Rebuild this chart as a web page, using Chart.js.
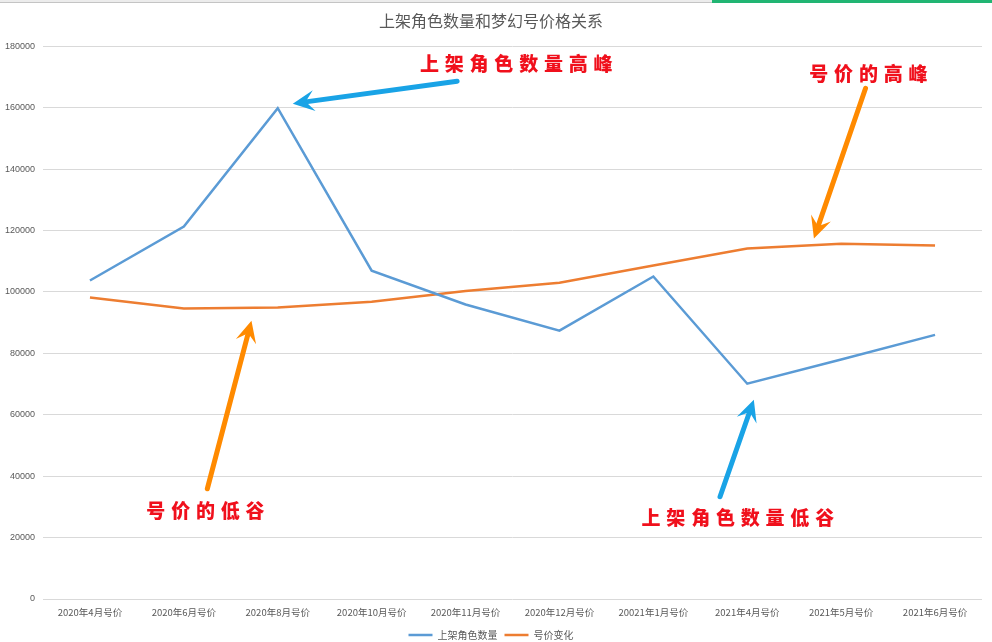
<!DOCTYPE html>
<html><head><meta charset="utf-8">
<script src="https://cdn.jsdelivr.net/npm/chart.js@4.4.1/dist/chart.umd.min.js"></script>
<style>
html,body{margin:0;padding:0;background:#fff;}
#wrap{position:relative;width:992px;height:642px;overflow:hidden;}
#c{position:absolute;left:0;top:0;}
#topbar{position:absolute;left:0;top:0;width:992px;height:2px;background:#ececec;border-bottom:1px solid #c4c4c4;}
#green{position:absolute;left:712px;top:0;width:280px;height:3px;background:#21b573;}
</style></head><body>
<div id="wrap"><canvas id="c" width="992" height="642" style="width:992px;height:642px"></canvas><div id="topbar"></div><div id="green"></div></div>
<script>
const categories = ['2020年4月号价','2020年6月号价','2020年8月号价','2020年10月号价','2020年11月号价','2020年12月号价','20021年1月号价','2021年4月号价','2021年5月号价','2021年6月号价'];
const listedCount = [103700,121300,159800,106900,95900,87400,105000,70100,78000,86000];
const priceChange = [98200,94600,94900,96800,100300,103000,108600,114100,115700,115100];
const yTicks = [0,20000,40000,60000,80000,100000,120000,140000,160000,180000];

// call-out notes placed in data space (category index, value)
const notes = [
  {text:'上架角色数量高峰', at:[4.54,174300], from:[3.91,168600], to:[2.16,161300], color:'#19a3e6'},
  {text:'号价的高峰', at:[8.29,171000], from:[8.26,166300], to:[7.71,117400], color:'#ff8a00'},
  {text:'号价的低谷', at:[1.23,28700], from:[1.25,35900], to:[1.72,90600], color:'#ff8a00'},
  {text:'上架角色数量低谷', at:[6.90,26400], from:[6.71,33300], to:[7.07,64900], color:'#19a3e6'}
];

function drawArrow(ctx,x1,y1,x2,y2,color){
  const a=Math.atan2(y2-y1,x2-x1), head=24, spread=0.45, notch=13;
  const nx=x2-notch*Math.cos(a), ny=y2-notch*Math.sin(a);
  ctx.save();
  ctx.strokeStyle=color; ctx.fillStyle=color; ctx.lineWidth=5; ctx.lineCap='round';
  ctx.beginPath(); ctx.moveTo(x1,y1); ctx.lineTo(nx,ny); ctx.stroke();
  ctx.beginPath();
  ctx.moveTo(x2,y2);
  ctx.lineTo(x2-head*Math.cos(a-spread), y2-head*Math.sin(a-spread));
  ctx.lineTo(nx,ny);
  ctx.lineTo(x2-head*Math.cos(a+spread), y2-head*Math.sin(a+spread));
  ctx.closePath(); ctx.fill();
  ctx.restore();
}

const notesPlugin = {
  id:'notes',
  afterDatasetsDraw(chart){
    const ctx=chart.ctx, xs=chart.scales.x, ys=chart.scales.y;
    const px=i=>xs.getPixelForValue(0)+i*(xs.getPixelForValue(1)-xs.getPixelForValue(0));
    notes.forEach(n=>{
      drawArrow(ctx, px(n.from[0]), ys.getPixelForValue(n.from[1]), px(n.to[0]), ys.getPixelForValue(n.to[1]), n.color);
      ctx.save();
      ctx.font='900 19px "Noto Sans CJK SC"';
      ctx.fillStyle='#f0101c';
      ctx.textBaseline='middle'; ctx.textAlign='center';
      const step=24.8, chars=[...n.text];
      const cx=px(n.at[0]), cy=ys.getPixelForValue(n.at[1]);
      const start=cx-step*(chars.length-1)/2;
      chars.forEach((ch,k)=>ctx.fillText(ch,start+k*step,cy));
      ctx.restore();
    });
  }
};

new Chart(document.getElementById('c'),{
  type:'line',
  data:{
    labels:categories,
    datasets:[
      {label:'上架角色数量', data:listedCount, borderColor:'#5b9bd5', backgroundColor:'#5b9bd5', borderWidth:2.5, pointRadius:0, tension:0, fill:false},
      {label:'号价变化', data:priceChange, borderColor:'#ed7d31', backgroundColor:'#ed7d31', borderWidth:2.5, pointRadius:0, tension:0, fill:false}
    ]
  },
  options:{
    responsive:false, animation:false, devicePixelRatio:1,
    layout:{padding:{left:0,right:10,top:0,bottom:-8}},
    plugins:{
      title:{display:true, text:'上架角色数量和梦幻号价格关系', color:'#595959',
        font:{family:'"Noto Sans CJK SC"', size:16, weight:'normal'}, padding:{top:11,bottom:16}},
      legend:{position:'bottom', labels:{usePointStyle:true, pointStyle:'line', pointStyleWidth:24, boxHeight:10,
        color:'#595959', font:{family:'"Noto Sans CJK SC"', size:10}, padding:7}},
      tooltip:{enabled:false}
    },
    scales:{
      x:{offset:true, grid:{display:false}, border:{display:false},
        ticks:{color:'#595959', maxRotation:0, autoSkip:false, padding:0, font:{family:'"Noto Sans CJK SC"', size:9.5}},
        afterFit(s){ s.height=24; }},
      y:{min:0, max:180000, border:{display:false},
        grid:{color:'#d9d9d9', lineWidth:1, drawTicks:false},
        afterBuildTicks(s){ s.ticks=yTicks.map(v=>({value:v})); },
        ticks:{color:'#595959', padding:8, font:{family:'"Liberation Sans"', size:9}, callback:v=>String(v)},
        afterFit(s){ s.width=43; }}
    }
  },
  plugins:[notesPlugin]
});
</script>
</body></html>
